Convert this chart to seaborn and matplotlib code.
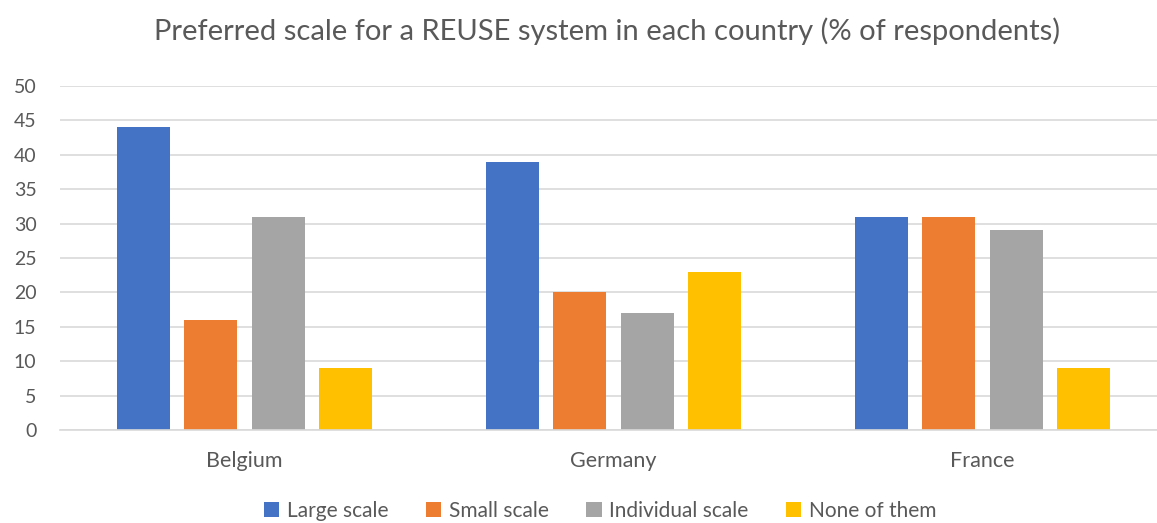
import matplotlib
matplotlib.use("Agg")
import matplotlib.pyplot as plt
import seaborn as sns
import pandas as pd

countries = ["Belgium", "Germany", "France"]
series = ["Large scale", "Small scale", "Individual scale", "None of them"]
large = [44, 39, 31]
small = [16, 20, 31]
individual = [31, 17, 29]
none_ = [9, 23, 9]
colors = ["#4472C4", "#ED7D31", "#A5A5A5", "#FFC000"]
yticks = [0, 5, 10, 15, 20, 25, 30, 35, 40, 45, 50]

rows = []
for name, vals in zip(series, [large, small, individual, none_]):
    for c, v in zip(countries, vals):
        rows.append({"country": c, "series": name, "value": v})
df = pd.DataFrame(rows)

sns.set_theme(style="white")
plt.rcParams["font.family"] = ["Lato", "DejaVu Sans"]

fig = plt.figure(figsize=(11.57, 5.23), dpi=100)
ax = fig.add_axes([60 / 1157, 93 / 523, 1107 / 1157, 344 / 523])
sns.barplot(data=df, x="country", y="value", hue="series", order=countries,
            hue_order=series, palette=colors, width=0.73, gap=0.21,
            saturation=1, linewidth=0, ax=ax, legend=True)

ax.set_ylim(0, 50)
ax.set_yticks(yticks)
ax.set_yticklabels([str(t) for t in yticks], fontsize=14, color="#595959")
ax.set_xlim(-0.5, 2.5)
ax.tick_params(axis="x", labelsize=15.5, colors="#595959", length=0, pad=15)
ax.tick_params(axis="y", length=0, pad=17)
ax.grid(axis="y", color="#D9D9D9", linewidth=1.2)
ax.set_axisbelow(True)
for s in ["top", "right", "left"]:
    ax.spines[s].set_visible(False)
ax.spines["bottom"].set_color("#D9D9D9")
ax.spines["bottom"].set_linewidth(1.2)
ax.set_xlabel("")
ax.set_ylabel("")

fig.text(607.5 / 1157, 1 - 31 / 523,
         "Preferred scale for a REUSE system in each country (% of respondents)",
         fontsize=21, color="#595959", ha="center", va="center")

handles, labels = ax.get_legend_handles_labels()
ax.get_legend().remove()
fig.legend(handles, labels, loc="center", bbox_to_anchor=(600 / 1157, 12 / 523),
           ncol=4, frameon=False, fontsize=15, handlelength=0.75, handleheight=0.75,
           handletextpad=0.35, columnspacing=1.8, labelcolor="#595959",
           borderpad=0)

fig.savefig("out.png", dpi=100)
